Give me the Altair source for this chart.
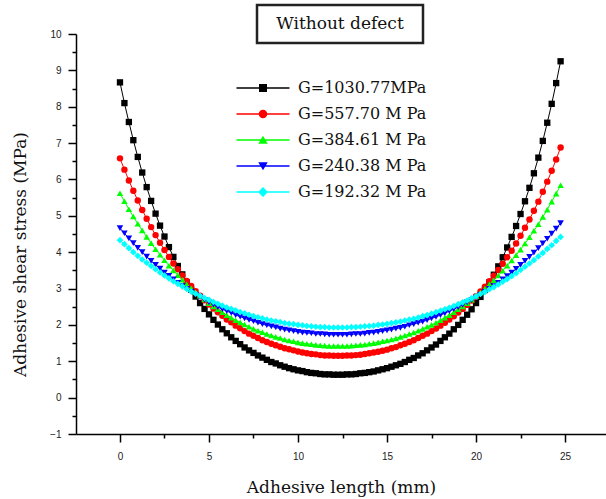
import altair as alt
import pandas as pd

# Position along the adhesive layer (mm)
LENGTH_MM = [
    0.0, 0.25, 0.5, 0.75, 1.0, 1.25, 1.5, 1.75, 2.0, 2.25,
    2.5, 2.75, 3.0, 3.25, 3.5, 3.75, 4.0, 4.25, 4.5, 4.75,
    5.0, 5.25, 5.5, 5.75, 6.0, 6.25, 6.5, 6.75, 7.0, 7.25,
    7.5, 7.75, 8.0, 8.25, 8.5, 8.75, 9.0, 9.25, 9.5, 9.75,
    10.0, 10.25, 10.5, 10.75, 11.0, 11.25, 11.5, 11.75, 12.0, 12.25,
    12.5, 12.75, 13.0, 13.25, 13.5, 13.75, 14.0, 14.25, 14.5, 14.75,
    15.0, 15.25, 15.5, 15.75, 16.0, 16.25, 16.5, 16.75, 17.0, 17.25,
    17.5, 17.75, 18.0, 18.25, 18.5, 18.75, 19.0, 19.25, 19.5, 19.75,
    20.0, 20.25, 20.5, 20.75, 21.0, 21.25, 21.5, 21.75, 22.0, 22.25,
    22.5, 22.75, 23.0, 23.25, 23.5, 23.75, 24.0, 24.25, 24.5, 24.75,
]

SERIES = ["G=1030.77MPa", "G=557.70 M Pa", "G=384.61 M Pa", "G=240.38 M Pa", "G=192.32 M Pa"]
COLORS = ["#000000", "#ff0000", "#00ff00", "#0000ff", "#00ffff"]

# Adhesive shear stress (MPa) for each shear modulus
TAU_1030 = [
    8.67, 8.10, 7.58, 7.08, 6.62, 6.19, 5.79, 5.41, 5.06, 4.73,
    4.43, 4.14, 3.87, 3.62, 3.39, 3.17, 2.97, 2.78, 2.60, 2.44,
    2.29, 2.14, 2.01, 1.88, 1.77, 1.66, 1.56, 1.47, 1.38, 1.30,
    1.23, 1.16, 1.10, 1.04, 0.98, 0.94, 0.89, 0.85, 0.81, 0.78,
    0.75, 0.73, 0.70, 0.68, 0.67, 0.65, 0.64, 0.64, 0.63, 0.63,
    0.63, 0.64, 0.64, 0.65, 0.67, 0.68, 0.70, 0.72, 0.75, 0.78,
    0.81, 0.85, 0.89, 0.93, 0.98, 1.04, 1.09, 1.16, 1.22, 1.30,
    1.38, 1.46, 1.56, 1.66, 1.76, 1.88, 2.00, 2.14, 2.28, 2.43,
    2.60, 2.77, 2.96, 3.17, 3.38, 3.61, 3.86, 4.13, 4.42, 4.72,
    5.05, 5.40, 5.77, 6.17, 6.60, 7.06, 7.56, 8.08, 8.65, 9.25,
]
TAU_557 = [
    6.58, 6.27, 5.97, 5.69, 5.42, 5.16, 4.92, 4.69, 4.47, 4.26,
    4.06, 3.87, 3.69, 3.53, 3.36, 3.21, 3.07, 2.93, 2.80, 2.68,
    2.56, 2.45, 2.35, 2.25, 2.15, 2.07, 1.98, 1.91, 1.83, 1.76,
    1.70, 1.64, 1.58, 1.53, 1.48, 1.44, 1.40, 1.36, 1.33, 1.30,
    1.27, 1.24, 1.22, 1.20, 1.19, 1.17, 1.16, 1.16, 1.15, 1.15,
    1.15, 1.16, 1.16, 1.17, 1.18, 1.20, 1.22, 1.24, 1.26, 1.29,
    1.32, 1.36, 1.39, 1.44, 1.48, 1.53, 1.58, 1.64, 1.70, 1.76,
    1.83, 1.90, 1.98, 2.06, 2.15, 2.24, 2.34, 2.44, 2.55, 2.67,
    2.79, 2.92, 3.05, 3.20, 3.35, 3.51, 3.68, 3.86, 4.04, 4.24,
    4.45, 4.67, 4.90, 5.14, 5.39, 5.66, 5.94, 6.24, 6.55, 6.88,
]
TAU_384 = [
    5.62, 5.40, 5.18, 4.98, 4.78, 4.60, 4.42, 4.25, 4.08, 3.93,
    3.78, 3.63, 3.50, 3.37, 3.24, 3.12, 3.01, 2.90, 2.80, 2.70,
    2.60, 2.51, 2.43, 2.35, 2.27, 2.20, 2.13, 2.07, 2.01, 1.95,
    1.89, 1.84, 1.80, 1.75, 1.71, 1.67, 1.64, 1.60, 1.57, 1.55,
    1.52, 1.50, 1.48, 1.47, 1.45, 1.44, 1.43, 1.42, 1.42, 1.42,
    1.42, 1.42, 1.43, 1.44, 1.45, 1.46, 1.48, 1.50, 1.52, 1.55,
    1.57, 1.60, 1.63, 1.67, 1.71, 1.75, 1.79, 1.84, 1.89, 1.95,
    2.00, 2.06, 2.13, 2.20, 2.27, 2.35, 2.43, 2.51, 2.60, 2.69,
    2.79, 2.89, 3.00, 3.12, 3.23, 3.36, 3.49, 3.63, 3.77, 3.92,
    4.07, 4.24, 4.41, 4.59, 4.77, 4.97, 5.17, 5.39, 5.61, 5.84,
]
TAU_240 = [
    4.66, 4.52, 4.38, 4.25, 4.12, 4.00, 3.88, 3.76, 3.65, 3.55,
    3.44, 3.35, 3.25, 3.16, 3.07, 2.99, 2.91, 2.83, 2.76, 2.69,
    2.62, 2.56, 2.49, 2.43, 2.38, 2.33, 2.27, 2.23, 2.18, 2.14,
    2.10, 2.06, 2.02, 1.99, 1.96, 1.93, 1.90, 1.87, 1.85, 1.83,
    1.81, 1.79, 1.78, 1.77, 1.75, 1.75, 1.74, 1.73, 1.73, 1.73,
    1.73, 1.73, 1.74, 1.75, 1.75, 1.76, 1.78, 1.79, 1.81, 1.83,
    1.85, 1.87, 1.90, 1.92, 1.95, 1.99, 2.02, 2.06, 2.09, 2.13,
    2.18, 2.22, 2.27, 2.32, 2.38, 2.43, 2.49, 2.55, 2.62, 2.68,
    2.75, 2.83, 2.91, 2.99, 3.07, 3.16, 3.25, 3.34, 3.44, 3.54,
    3.65, 3.76, 3.87, 3.99, 4.11, 4.24, 4.37, 4.51, 4.65, 4.80,
]
TAU_192 = [
    4.33, 4.22, 4.11, 4.00, 3.90, 3.80, 3.71, 3.62, 3.53, 3.44,
    3.36, 3.28, 3.20, 3.13, 3.06, 2.99, 2.92, 2.86, 2.80, 2.74,
    2.69, 2.63, 2.58, 2.53, 2.48, 2.44, 2.40, 2.35, 2.32, 2.28,
    2.24, 2.21, 2.18, 2.15, 2.12, 2.10, 2.08, 2.05, 2.03, 2.02,
    2.00, 1.99, 1.97, 1.96, 1.95, 1.94, 1.94, 1.93, 1.93, 1.93,
    1.93, 1.93, 1.94, 1.94, 1.95, 1.96, 1.97, 1.98, 2.00, 2.01,
    2.03, 2.05, 2.07, 2.09, 2.12, 2.15, 2.17, 2.20, 2.24, 2.27,
    2.31, 2.35, 2.39, 2.43, 2.47, 2.52, 2.57, 2.62, 2.67, 2.73,
    2.79, 2.85, 2.91, 2.98, 3.04, 3.11, 3.19, 3.26, 3.34, 3.42,
    3.51, 3.60, 3.69, 3.78, 3.88, 3.98, 4.09, 4.19, 4.31, 4.42,
]

X_TICKS = [0, 2.5, 5, 7.5, 10, 12.5, 15, 17.5, 20, 22.5, 25]
Y_TICKS = [-1, -0.5, 0, 0.5, 1, 1.5, 2, 2.5, 3, 3.5, 4, 4.5, 5, 5.5,
           6, 6.5, 7, 7.5, 8, 8.5, 9, 9.5, 10]

curves = [TAU_1030, TAU_557, TAU_384, TAU_240, TAU_192]
rows = []
for name, tau in zip(SERIES, curves):
    for x, y in zip(LENGTH_MM, tau):
        rows.append({"series": name, "length": x, "stress": y})
df = pd.DataFrame(rows)

SERIF = "DejaVu Serif"
SANS = "Liberation Sans"

x_scale = alt.Scale(domain=[-2.47, 27.3], nice=False, zero=False)
y_scale = alt.Scale(domain=[-1, 10], nice=False, zero=False)
color_scale = alt.Scale(domain=SERIES, range=COLORS)
marker_scale = alt.Scale(domain=SERIES,
                         range=["square", "circle", "triangle-up", "triangle-down", "diamond"])
marker_size = alt.Scale(domain=SERIES, range=[40, 44, 70, 70, 76])

# Legend glyphs: a short line with the series marker in its middle
BAR = "M-5.3,-0.13H5.3V0.13H-5.3Z "
legend_glyphs = alt.Scale(domain=SERIES, range=[
    BAR + "M-0.8,-0.8H0.8V0.8H-0.8Z",
    BAR + "M0.85,0A0.85,0.85 0 1,1 -0.85,0A0.85,0.85 0 1,1 0.85,0Z",
    BAR + "M0,-0.85L0.95,0.75L-0.95,0.75Z",
    BAR + "M-0.95,-0.75L0.95,-0.75L0,0.85Z",
    BAR + "M0,-1L1,0L0,1L-1,0Z",
])

x_axis = alt.Axis(
    title="Adhesive length (mm)", values=X_TICKS,
    labelExpr="datum.value % 5 === 0 ? format(datum.value, 'd') : ''",
    tickSize={"condition": {"test": "datum.value % 5 === 0", "value": 8}, "value": 4},
    labelPadding=9, labelFont=SANS, labelFontSize=10, labelColor="#222",
    domainColor="#000", domainWidth=1.5, tickColor="#000", tickWidth=1.5,
    grid=False, titleFont=SERIF, titleFontSize=17, titleFontWeight="normal",
    titleColor="#111", titleY=53, titleBaseline="middle",
)
y_axis = alt.Axis(
    title="Adhesive shear stress (MPa)", values=Y_TICKS,
    labelExpr="datum.value % 1 === 0 ? format(datum.value, 'd') : ''",
    tickSize={"condition": {"test": "datum.value % 1 === 0", "value": 8}, "value": 4},
    labelPadding=7, labelFont=SANS, labelFontSize=10, labelColor="#222",
    domainColor="#000", domainWidth=1.5, tickColor="#000", tickWidth=1.5,
    grid=False, titleFont=SERIF, titleFontSize=17, titleFontWeight="normal",
    titleColor="#111", titleX=-56, titleY=220, titleAngle=270,
    titleAlign="center", titleBaseline="middle",
)

base = alt.Chart(df)
X = alt.X("length:Q", scale=x_scale, axis=x_axis)
Y = alt.Y("stress:Q", scale=y_scale, axis=y_axis)

lines = base.mark_line(strokeWidth=1).encode(
    x=X, y=Y,
    color=alt.Color("series:N", scale=color_scale, legend=None),
    detail="series:N",
)

points = base.mark_point(filled=True, opacity=1, strokeWidth=0).encode(
    x=X, y=Y,
    color=alt.Color("series:N", scale=color_scale, legend=None),
    shape=alt.Shape("series:N", scale=marker_scale, legend=None),
    size=alt.Size("series:N", scale=marker_size, legend=None),
)

legend = alt.Legend(
    title=None, orient="none", legendX=179, legendY=46, padding=0,
    symbolSize=100, symbolStrokeWidth=0, labelOffset=27, rowPadding=10,
    labelFont=SERIF, labelFontSize=16, labelColor="#111",
)
legend_layer = base.mark_point(filled=True, opacity=1).encode(
    x=X, y=Y,
    color=alt.Color("series:N", scale=color_scale, legend=legend),
    shape=alt.Shape("series:N", scale=legend_glyphs, legend=legend),
).transform_filter("false")

label_df = pd.DataFrame({"label": ["Without defect"]})
title_box = alt.Chart(label_df).mark_rect(
    fill="white", stroke="#222", strokeWidth=2.5
).encode(x=alt.value(181), x2=alt.value(347), y=alt.value(-29), y2=alt.value(9))
title_text = alt.Chart(label_df).mark_text(
    font=SERIF, fontSize=17, color="#111", baseline="middle", align="center"
).encode(x=alt.value(264), y=alt.value(-10), text="label:N")

chart = alt.layer(
    lines, points, legend_layer, title_box, title_text
).resolve_scale(
    color="independent", shape="independent"
).properties(
    width=530, height=400,
    padding={"left": 76, "top": 34, "right": 0, "bottom": 65},
    autosize=alt.AutoSizeParams(type="none"),
    background="white",
).configure_view(stroke=None)

chart.save("out.html", embed_options={"renderer": "svg", "actions": False})
